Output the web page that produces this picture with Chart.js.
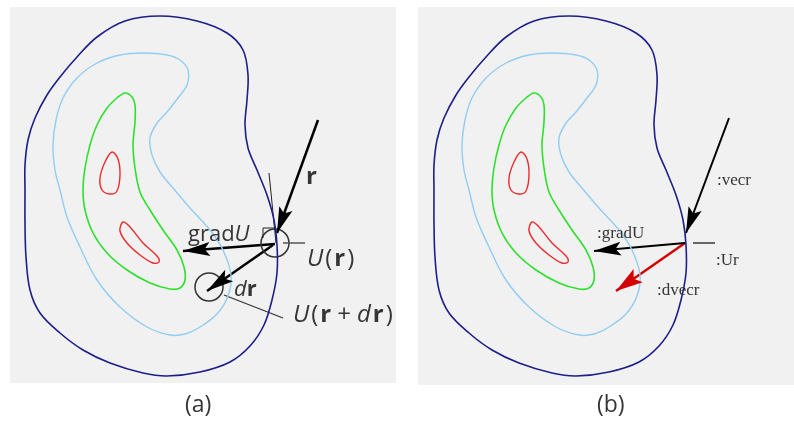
<!DOCTYPE html>
<html>
<head>
<meta charset="utf-8">
<script src="https://cdn.jsdelivr.net/npm/chart.js@4.4.1/dist/chart.umd.min.js"></script>
<style>
  body { margin: 0; background: #fff; width: 794px; height: 422px; overflow: hidden; }
  canvas { position: absolute; top: 0; }
  #panelA { left: 0; }
  #panelB { left: 409px; }
</style>
</head>
<body>
<canvas id="panelA" width="400" height="422"></canvas>
<canvas id="panelB" width="385" height="422"></canvas>
<script>
// contour lines (panel coordinates, y down)
const outerContour = [[160,16],[197,21],[227,33],[243,50],[248,75],[247,100],[245,125],[248,148],[257,170],[267,195],[274,220],[277,245],[277,273],[272,300],[264,325],[250,346],[230,362],[200,372],[167,376],[143,373],[110,363],[83,350],[60,333],[40,313],[30,290],[26,257],[25,223],[25,190],[25,165],[28,140],[35,118],[47,95],[60,77],[77,57],[97,37],[125,21],[160,16]];
const blueContour = [[143,53],[167,55],[180,60],[188,70],[187,85],[178,98],[167,112],[157,123],[150,138],[152,155],[160,172],[173,188],[190,208],[210,230],[223,250],[231,275],[228,296],[217,314],[200,327],[185,334],[170,335],[147,327],[120,307],[97,280],[80,247],[67,217],[60,190],[55,170],[53,145],[56,120],[63,98],[77,78],[97,63],[120,55],[143,53]];
const greenContour = [[125,93],[132,97],[135,105],[135,122],[133,145],[135,168],[140,192],[150,210],[163,230],[177,250],[184,267],[185,280],[180,288],[170,289],[150,283],[127,270],[107,253],[93,233],[85,210],[83,190],[85,168],[90,145],[97,125],[107,108],[117,98],[125,93]];
const redLoop1 = [[112,152],[118,159],[120,175],[117,191],[110,194],[102,190],[100,178],[105,162],[112,152]];
const redLoop2 = [[123,222],[130,227],[143,243],[157,256],[159,262],[153,263],[140,255],[127,243],[120,231],[123,222]];

// panel (a) marks
const arrowR = [[318,120],[277,233]];
const arrowGradA = [[275,244],[183,251]];
const arrowDr = [[273,245],[207,291]];
const tangentLine = [[269,173],[276,243]];
const rightAngle = [[263,238],[263,228],[275,228]];
const levelTickA = [[283,243],[305,243]];
const leaderLine = [[224,295],[283,318]];
const circlesA = [[275,243],[209,287]];

// panel (b) marks
const arrowVecr = [[320,118],[277,233]];
const arrowGradB = [[276,243],[185,251]];
const arrowDvecr = [[276,243],[207,291]];
const levelTickB = [[284,243],[306,243]];

// backgrounds [x0, y0, x1, y1]
const bgA = [10, 7, 396, 383];
const bgB = [9, 7, 385, 385];

// labels: [x, baseline y, parts [text, style], font key]
const labelsA = [
  [306, 184, [["r", "bold"]], "math"],
  [188, 241, [["grad", ""], ["U", "italic"]], "sans"],
  [307, 266, [["U", "italic"], ["(", ""], ["r", "bold"], [")", ""]], "math"],
  [234, 296, [["d", "italic"], ["r", "bold"]], "sans"],
  [293, 322, [["U", "italic"], ["(", ""], ["r", "bold"], ["+", ""], ["d", "italic"], ["r", "bold"], [")", ""]], "math"],
  [185, 412, [["(a)", ""]], "caption"]
];
const labelsB = [
  [308, 185, [[":vecr", ""]], "serif"],
  [188, 238, [[":gradU", ""]], "serif"],
  [307, 265, [[":Ur", ""]], "serif"],
  [248, 295, [[":dvecr", ""]], "serif"],
  [188, 412, [["(b)", ""]], "caption"]
];

const FONTS = {
  sans: { size: 22, gap: 0, family: "'Open Sans', sans-serif" },
  math: { size: 24, gap: 2, family: "'Open Sans', sans-serif" },
  caption: { size: 23, gap: 0, family: "'Open Sans', sans-serif" },
  serif: { size: 17, gap: 0, family: "'Liberation Serif', serif" }
};

const NAVY = "#1e1e8a", SKY = "#92cdf2", GREEN = "#2ee02e", RED = "#ee2b2b";

function pts(arr) { return arr.map(p => ({ x: p[0], y: p[1] })); }

// closed curve: wrap one point on each side so the join is smooth, hide the wrap segments
function curve(arr, color, width) {
  const n = arr.length;
  const wrapped = [arr[n - 2]].concat(arr, [arr[1]]);
  const last = wrapped.length - 2;
  return { data: pts(wrapped), borderColor: color, borderWidth: width, showLine: true, tension: 0.35,
           pointRadius: 0, fill: false,
           segment: { borderColor: c => (c.p0DataIndex === 0 || c.p0DataIndex === last) ? "rgba(0,0,0,0)" : color } };
}
function straight(arr, color, width, head) {
  return { data: pts(arr), borderColor: color, borderWidth: width, showLine: true, tension: 0,
           pointRadius: 0, fill: false, arrowHead: head || null };
}

const bgPlugin = {
  id: "panelBg",
  beforeDraw(chart, args, opts) {
    const { ctx, scales: { x, y } } = chart;
    const b = opts.rect;
    ctx.save();
    ctx.fillStyle = "#f1f1f1";
    ctx.fillRect(x.getPixelForValue(b[0]), y.getPixelForValue(b[1]),
                 x.getPixelForValue(b[2]) - x.getPixelForValue(b[0]),
                 y.getPixelForValue(b[3]) - y.getPixelForValue(b[1]));
    ctx.restore();
  }
};

const arrowPlugin = {
  id: "arrowHeads",
  afterDatasetsDraw(chart) {
    const ctx = chart.ctx;
    chart.data.datasets.forEach((ds, i) => {
      if (!ds.arrowHead) return;
      const el = chart.getDatasetMeta(i).data;
      const a = el[el.length - 2], b = el[el.length - 1];
      const ang = Math.atan2(b.y - a.y, b.x - a.x);
      const L = ds.arrowHead[0], W = ds.arrowHead[1];
      ctx.save();
      ctx.translate(b.x, b.y);
      ctx.rotate(ang);
      ctx.fillStyle = ds.borderColor;
      ctx.beginPath();
      ctx.moveTo(0, 0);
      ctx.lineTo(-L, -W);
      ctx.lineTo(-L * 0.8, 0);
      ctx.lineTo(-L, W);
      ctx.closePath();
      ctx.fill();
      ctx.restore();
    });
  }
};

const labelPlugin = {
  id: "texts",
  afterDraw(chart, args, opts) {
    const { ctx, scales: { x, y } } = chart;
    ctx.save();
    ctx.fillStyle = opts.color;
    ctx.textBaseline = "alphabetic";
    opts.items.forEach(l => {
      const f = FONTS[l[3]];
      let px = x.getPixelForValue(l[0]);
      const py = y.getPixelForValue(l[1]);
      l[2].forEach(part => {
        const wide = part[0] === "+";
        if (wide) px += 4;
        ctx.font = (part[1] ? part[1] + " " : "") + f.size + "px " + f.family;
        ctx.fillText(part[0], px, py);
        px += ctx.measureText(part[0]).width + f.gap + (wide ? 4 : 0);
      });
    });
    ctx.restore();
  }
};

function contours() {
  return [
    curve(outerContour, NAVY, 1.6),
    curve(blueContour, SKY, 1.4),
    curve(greenContour, GREEN, 1.6),
    curve(redLoop1, RED, 1.4),
    curve(redLoop2, RED, 1.4)
  ];
}

function makeChart(id, w, datasets, bg, labels) {
  return new Chart(document.getElementById(id), {
    type: "scatter",
    data: { datasets },
    options: {
      responsive: false,
      animation: false,
      events: [],
      layout: { padding: 0, autoPadding: false },
      scales: {
        x: { type: "linear", min: 0, max: w, display: false },
        y: { type: "linear", min: 0, max: 422, reverse: true, display: false }
      },
      plugins: {
        legend: { display: false },
        tooltip: { enabled: false },
        panelBg: { rect: bg },
        texts: { items: labels, color: "#353535" }
      }
    },
    plugins: [bgPlugin, arrowPlugin, labelPlugin]
  });
}

makeChart("panelA", 400, contours().concat([
  straight(tangentLine, "#222", 1),
  straight(rightAngle, "#222", 1),
  straight(levelTickA, "#555", 1.5),
  straight(leaderLine, "#333", 1.2),
  { data: pts(circlesA), pointRadius: [14, 14], pointBorderColor: "#333", pointBorderWidth: 1.5,
    pointBackgroundColor: "rgba(0,0,0,0)", showLine: false },
  straight(arrowR, "#000", 2.5, [26, 7]),
  straight(arrowGradA, "#000", 2.5, [27, 7]),
  straight(arrowDr, "#000", 2.5, [27, 7])
]), bgA, labelsA);

makeChart("panelB", 385, contours().concat([
  straight(levelTickB, "#666", 2),
  straight(arrowVecr, "#000", 2, [26, 7]),
  straight(arrowGradB, "#000", 2, [27, 7]),
  straight(arrowDvecr, "#d40000", 2.5, [27, 8])
]), bgB, labelsB);
</script>
</body>
</html>
